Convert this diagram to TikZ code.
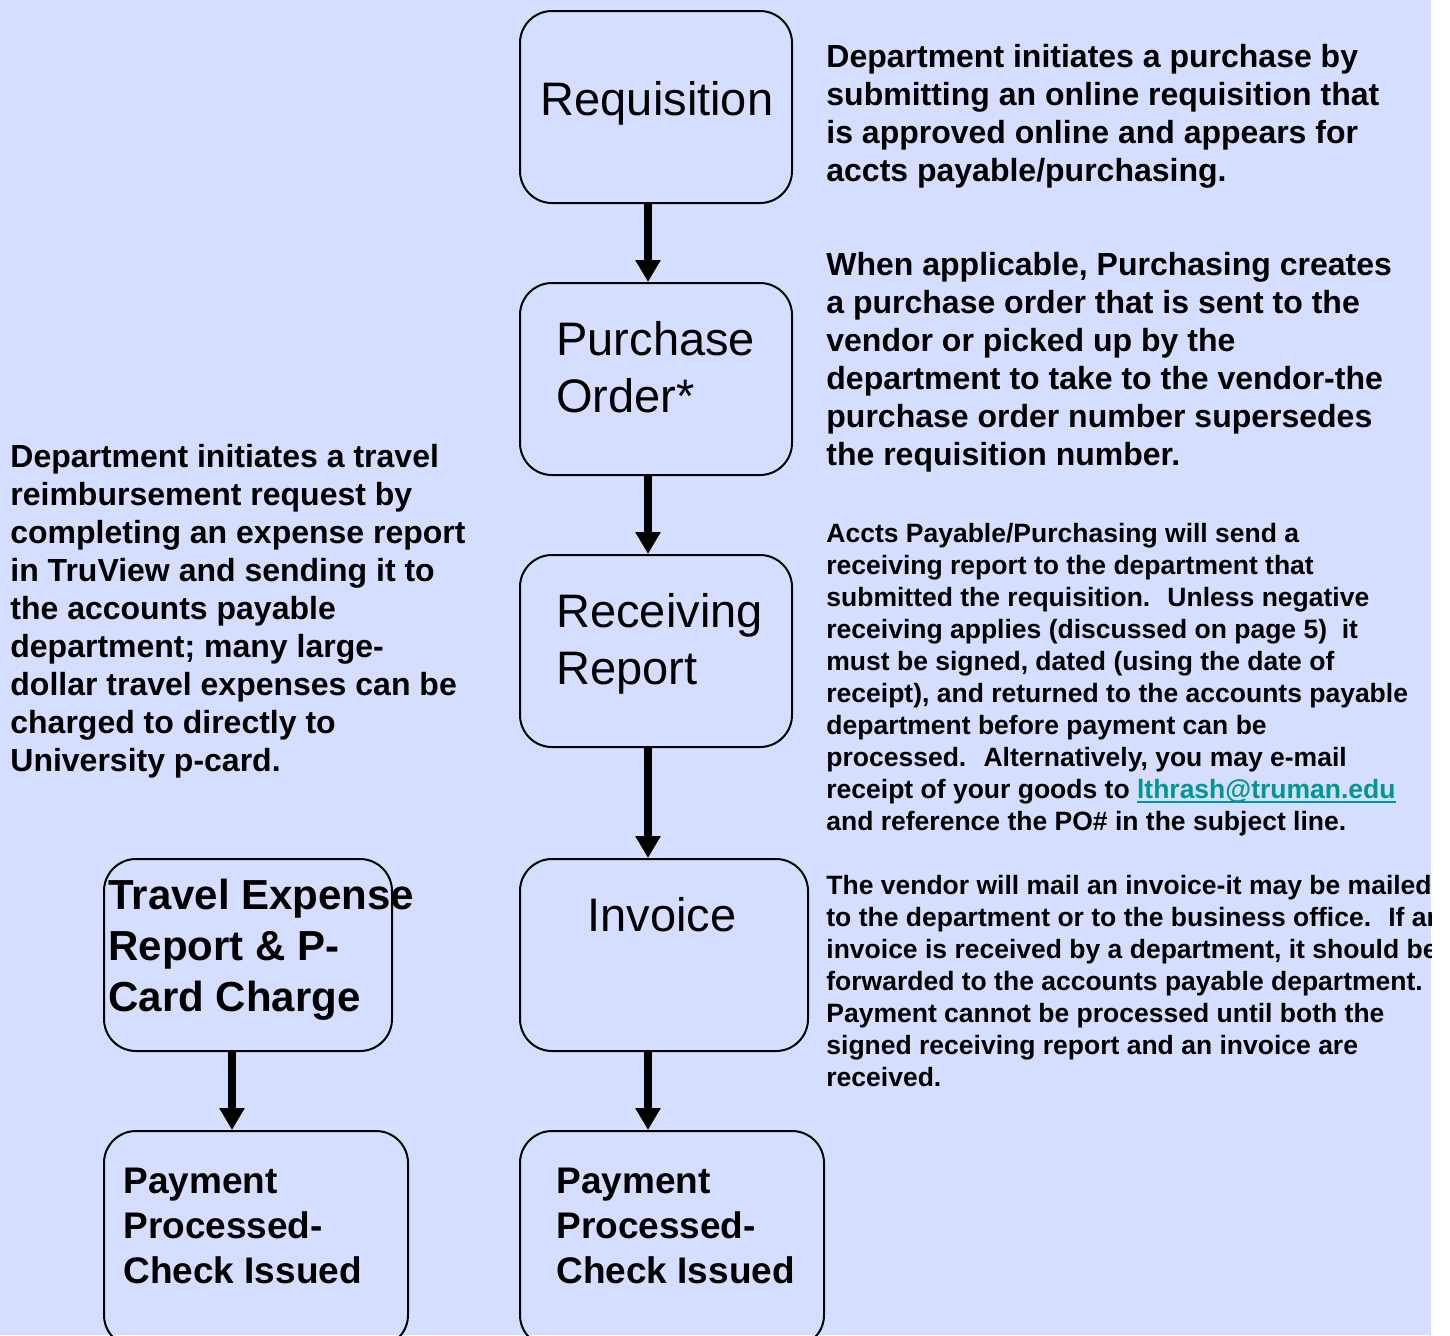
\documentclass[tikz,border=0pt]{standalone}
\usepackage{fontspec}
\setmainfont{Liberation Sans}
\usetikzlibrary{arrows.meta}
\definecolor{bgc}{RGB}{213,222,255}
\definecolor{linkc}{RGB}{0,150,150}
\newlength\myullen
\newcommand\myul[1]{\settowidth\myullen{#1}\rlap{\rule[-2.2pt]{\myullen}{1pt}}#1}
\begin{document}
\begin{tikzpicture}[x=0.5pt,y=-0.5pt,
  box/.style={draw=black, line width=1pt, rounded corners=16pt, inner sep=0pt, anchor=north west},
  flow/.style={line width=4pt, -{Triangle[width=12pt,length=11pt]}},
  blabel/.style={inner sep=0pt, anchor=base, font=\fontsize{23.5}{28.5}\selectfont},
  mlabel/.style={inner sep=0pt, anchor=north west, align=left, font=\fontsize{23.5}{28.5}\selectfont},
  plabel/.style={inner sep=0pt, anchor=north west, align=left, font=\fontsize{18.5}{22.5}\selectfont\bfseries},
  tlabel/.style={inner sep=0pt, anchor=north west, align=left, font=\fontsize{21}{25.5}\selectfont\bfseries},
  bigtext/.style={inner sep=0pt, anchor=north west, align=left, font=\fontsize{16}{19}\selectfont\bfseries},
  smalltext/.style={inner sep=0pt, anchor=north west, align=left, font=\fontsize{13.25}{16}\selectfont\bfseries}]
\useasboundingbox (0,0) rectangle (1450,1335);
\fill[white] (0,0) rectangle (1450,1335);
\clip (0,0) rectangle (1431,1335);
\fill[bgc] (0,0) rectangle (1431,1335);

% boxes
\node[box, minimum width=136pt, minimum height=96pt] (req) at (519,10) {};
\node[box, minimum width=136pt, minimum height=96pt] (po) at (519,282) {};
\node[box, minimum width=136pt, minimum height=96pt] (rr) at (519,554) {};
\node[box, minimum width=144pt, minimum height=96pt] (inv) at (519,858) {};
\node[box, minimum width=152pt, minimum height=108pt] (payr) at (519,1130) {};
\node[box, minimum width=144pt, minimum height=96pt] (trav) at (103,858) {};
\node[box, minimum width=152pt, minimum height=108pt] (payl) at (103,1130) {};

% box labels
\node[blabel] (reqt) at (657,115) {Requisition};
\node[mlabel] (pot) at (556,315.1) {\strut Purchase\\Order*};
\node[mlabel] (rrt) at (556,587.1) {\strut Receiving\\Report};
\node[blabel] (invt) at (662,931) {Invoice};
\node[plabel] (payrt) at (556,1161.5) {\strut Payment\\Processed-\\Check Issued};
\node[plabel] (paylt) at (123,1161.5) {\strut Payment\\Processed-\\Check Issued};
\node[tlabel] (travt) at (108,873.3) {\strut Travel Expense\\Report \& P-\\Card Charge};

% connectors
\draw[flow] ([xshift=-4pt]req.south) -- ([xshift=-4pt]po.north);
\draw[flow] ([xshift=-4pt]po.south) -- ([xshift=-4pt]rr.north);
\draw[flow] ([xshift=-4pt]rr.south) -- ([xshift=-8pt]inv.north);
\draw[flow] ([xshift=-8pt]inv.south) -- ([xshift=-12pt]payr.north);
\draw[flow] ([xshift=-8pt]trav.south) -- ([xshift=-12pt]payl.north);

% descriptive texts
\node[bigtext] (d1) at (826,40.4) {\strut Department initiates a purchase by\\
submitting an online requisition that\\
is approved online and appears for\\
accts payable/purchasing.};
\node[bigtext] (d2) at (826,248.4) {\strut When applicable, Purchasing creates\\
a purchase order that is sent to the\\
vendor or picked up by the\\
department to take to the vendor-the\\
purchase order number supersedes\\
the requisition number.};
\node[smalltext] (d3) at (826,519.6) {\strut Accts Payable/Purchasing will send a\\
receiving report to the department that\\
submitted the requisition.~ Unless negative\\
receiving applies (discussed on page 5)~ it\\
must be signed, dated (using the date of\\
receipt), and returned to the accounts payable\\
department before payment can be\\
processed.~ Alternatively, you may e-mail\\
receipt of your goods to \textcolor{linkc}{\myul{lthrash@truman.edu}}\\
and reference the PO\# in the subject line.};
\node[smalltext] (d4) at (826,871.6) {\strut The vendor will mail an invoice-it may be mailed\\
to the department or to the business office.~ If an\\
invoice is received by a department, it should be\\
forwarded to the accounts payable department.\\
Payment cannot be processed until both the\\
signed receiving report and an invoice are\\
received.};
\node[bigtext] (dl) at (10,440.4) {\strut Department initiates a travel\\
reimbursement request by\\
completing an expense report\\
in TruView and sending it to\\
the accounts payable\\
department; many large-\\
dollar travel expenses can be\\
charged to directly to\\
University p-card.};
\end{tikzpicture}
\end{document}
